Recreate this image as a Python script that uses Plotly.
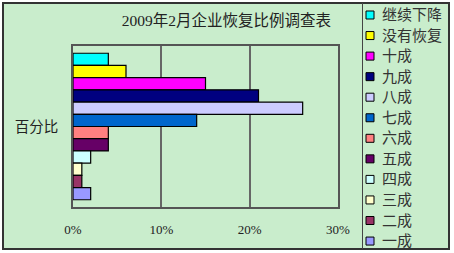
import plotly.graph_objects as go

category = ["百分比"]
series_names = ["继续下降", "没有恢复", "十成", "九成", "八成", "七成",
                "六成", "五成", "四成", "三成", "二成", "一成"]
series_values = [4, 6, 15, 21, 26, 14, 4, 4, 2, 1, 1, 2]
series_colors = ["#00FFFF", "#FFFF00", "#FF00FF", "#000080", "#CCCCFF", "#0066CC",
                 "#FF8080", "#660066", "#CCFFFF", "#FFFFCC", "#993366", "#9999FF"]
x_ticks = [0, 10, 20, 30]
x_tick_labels = ["0%", "10%", "20%", "30%"]

W, H = 454, 253
L, R, T, B = 73, 338, 46, 207

def px(x):
    return (x - L) / (R - L)

def py(y):
    return (B - y) / (B - T)

CJK = "Liberation Serif, Noto Sans CJK SC"

fig = go.Figure()
for name, val, col in zip(series_names, series_values, series_colors):
    fig.add_trace(go.Bar(
        y=category, x=[val], name=name, orientation="h",
        marker=dict(color=col, line=dict(color="#000000", width=1.2)),
        showlegend=False,
    ))

shapes = [
    dict(type="rect", xref="paper", yref="paper", layer="below",
         x0=px(3), x1=px(449), y0=py(249), y1=py(3),
         fillcolor="#C9EDCC", line=dict(color="#333333", width=2)),
    dict(type="line", xref="paper", yref="paper",
         x0=px(362.5), x1=px(362.5), y0=py(249), y1=py(3),
         line=dict(color="#444444", width=1)),
]
annotations = []
for i, (name, col) in enumerate(zip(series_names, series_colors)):
    cy = 15 + i * 20.55
    shapes.append(dict(type="rect", xref="paper", yref="paper",
                       x0=px(366), x1=px(374), y0=py(cy + 4), y1=py(cy - 4),
                       fillcolor=col, line=dict(color="#000000", width=1)))
    annotations.append(dict(text=name, xref="paper", yref="paper",
                            x=px(380), y=py(cy), xanchor="left", yanchor="middle",
                            showarrow=False,
                            font=dict(size=15, family=CJK, color="#333333")))

fig.update_layout(
    width=W, height=H,
    margin=dict(l=L, r=W - R, t=T, b=H - B, autoexpand=False),
    paper_bgcolor="#FFFFFF",
    plot_bgcolor="#C0C0C0",
    barmode="group", bargap=0.09, bargroupgap=0,
    font=dict(family=CJK, color="#222222"),
    title=dict(text="2009年2月企业恢复比例调查表", x=px(226.5), xref="paper",
               y=1 - 21 / H, yref="container", xanchor="center", yanchor="middle",
               font=dict(size=15.5, family=CJK, color="#222222")),
    xaxis=dict(range=[0, 30], tickvals=x_ticks, ticktext=x_tick_labels,
               showgrid=True, gridcolor="#666666", gridwidth=1.5,
               showline=True, linecolor="#555555", linewidth=1.5, mirror=True,
               zeroline=False, ticks="", ticklabelstandoff=10,
               tickfont=dict(size=13, family=CJK, color="#222222")),
    yaxis=dict(autorange="reversed", showline=True, linecolor="#555555",
               linewidth=1.5, mirror=True, ticks="", ticklabelstandoff=10,
               tickfont=dict(size=14.5, family=CJK, color="#222222")),
    showlegend=False,
    shapes=shapes,
    annotations=annotations,
)

fig.write_html("out.html")
